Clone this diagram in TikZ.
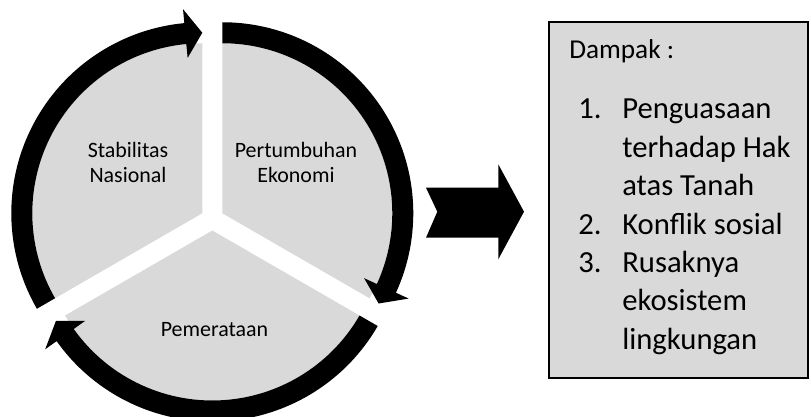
\documentclass[tikz,border=0pt]{standalone}
\usepackage{fontspec}
\setmainfont{Carlito}
\usepackage{xcolor}
\usepackage{tikz}
\usetikzlibrary{positioning}

\definecolor{pie}{HTML}{D9D9D9}

\begin{document}
\begin{tikzpicture}[
    x=0.025cm, y=0.025cm,
    sector/.style={fill=pie},
    ring/.style={fill=black},
    lbl/.style={align=center, font=\fontsize{15.6}{17.8}\selectfont},
    box/.style={draw, line width=0.8pt, fill=pie, minimum width=6.475cm, minimum height=8.9cm},
    hd/.style={anchor=base west, inner sep=0pt, font=\fontsize{19.4}{22}\selectfont},
    lst/.style={anchor=base west, inner sep=0pt, font=\fontsize{21.8}{27.3}\selectfont}
]
\useasboundingbox (0,0) rectangle (811,416);

% sector centres
\coordinate (cr) at (222.3,202.75);
\coordinate (cb) at (212.3,185.5);
\coordinate (cl) at (202.3,202.75);

% sectors
\fill[sector] (cr) -- ++(90:170) arc[start angle=90, end angle=-30, radius=170] -- cycle;
\fill[sector] (cb) -- ++(-30:170) arc[start angle=-30, end angle=-150, radius=170] -- cycle;
\fill[sector] (cl) -- ++(210:170) arc[start angle=210, end angle=90, radius=170] -- cycle;

% top right arrow
\begin{scope}[shift={(cr)}]
\fill[ring] (90:191) arc[start angle=90, end angle=-24.6, radius=191] -- (-24.6:205) -- (-30:180.5)
    -- (-24.6:156) -- (-24.6:170) arc[start angle=-24.6, end angle=90, radius=170] -- cycle;
\end{scope}

% bottom arrow
\begin{scope}[shift={(cb)}]
\fill[ring] (-30:191) arc[start angle=-30, end angle=-144.6, radius=191] -- (-144.6:205) -- (-150:180.5)
    -- (-144.6:156) -- (-144.6:170) arc[start angle=-144.6, end angle=-30, radius=170] -- cycle;
\end{scope}

% left arrow
\begin{scope}[shift={(cl)}]
\fill[ring] (210:191) arc[start angle=210, end angle=95.4, radius=191] -- (95.4:205) -- (90:180.5)
    -- (95.4:156) -- (95.4:170) arc[start angle=95.4, end angle=210, radius=170] -- cycle;
\end{scope}

% labels
\node[lbl] (stab) at (128,253.5) {Stabilitas\\Nasional};
\node[lbl] (tumbuh) at (296,253.5) {Pertumbuhan\\Ekonomi};
\node[lbl] (rata) at (214.5,86) {Pemerataan};

% big arrow
\fill (426,228.3) -- (498.3,228.3) -- (498.3,251.7) -- (524,204.3) -- (498.3,156.7)
    -- (498.3,178.3) -- (426,178.3) -- (437.3,204.3) -- cycle;

% Dampak box
\node[box] (dampak) at (678.5,216) {};
\node[hd] (judul) at (569,357) {Dampak :};
\node[lst] (daftar) at (578,297) {\begin{tabular}[t]{@{}p{31.3pt}@{}l@{}}
1. & Penguasaan\\
   & terhadap Hak\\
   & atas Tanah\\
2. & Konflik sosial\\
3. & Rusaknya\\
   & ekosistem\\
   & lingkungan
\end{tabular}};
\end{tikzpicture}
\end{document}
